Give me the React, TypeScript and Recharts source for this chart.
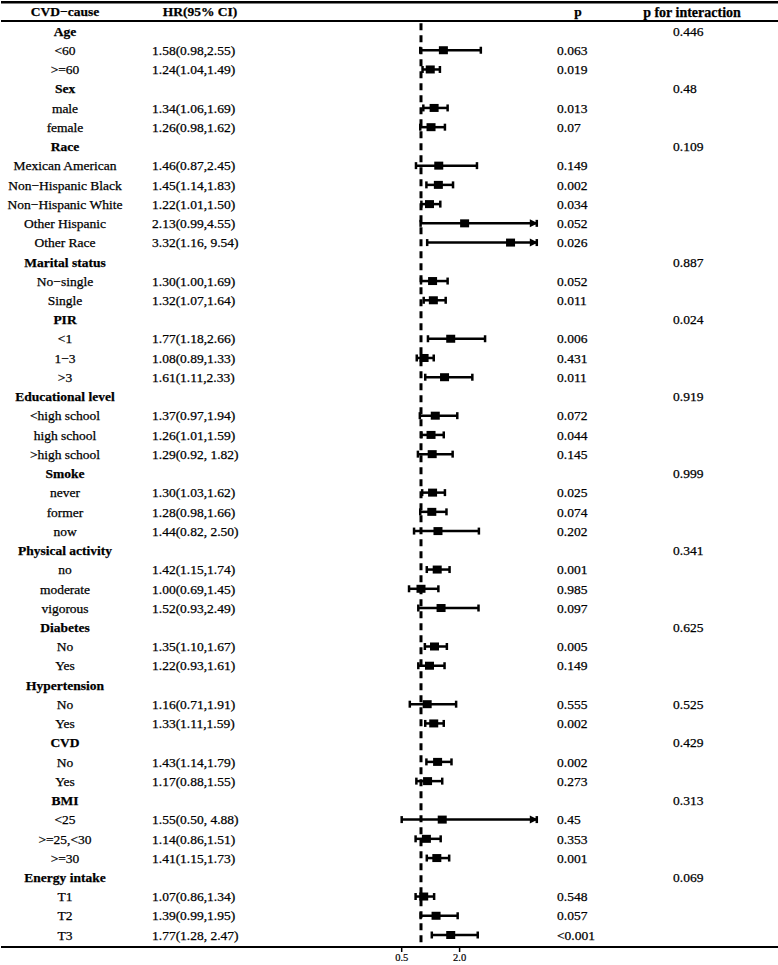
import { ScatterChart, Scatter, XAxis, YAxis, ErrorBar, ReferenceLine } from "recharts"

// subgroup rows (group headers have no estimate)
const labels = [
  "Age", "<60", ">=60",
  "Sex", "male", "female",
  "Race", "Mexican American", "Non\u2212Hispanic Black", "Non\u2212Hispanic White", "Other Hispanic", "Other Race",
  "Marital status", "No\u2212single", "Single",
  "PIR", "<1", "1\u22123", ">3",
  "Educational level", "<high school", "high school", ">high school",
  "Smoke", "never", "former", "now",
  "Physical activity", "no", "moderate", "vigorous",
  "Diabetes", "No", "Yes",
  "Hypertension", "No", "Yes",
  "CVD", "No", "Yes",
  "BMI", "<25", ">=25,<30", ">=30",
  "Energy intake", "T1", "T2", "T3",
]

const hr = [
  null, 1.58, 1.24,
  null, 1.34, 1.26,
  null, 1.46, 1.45, 1.22, 2.13, 3.32,
  null, 1.30, 1.32,
  null, 1.77, 1.08, 1.61,
  null, 1.37, 1.26, 1.29,
  null, 1.30, 1.28, 1.44,
  null, 1.42, 1.00, 1.52,
  null, 1.35, 1.22,
  null, 1.16, 1.33,
  null, 1.43, 1.17,
  null, 1.55, 1.14, 1.41,
  null, 1.07, 1.39, 1.77,
]

const ciLow = [
  null, 0.98, 1.04,
  null, 1.06, 0.98,
  null, 0.87, 1.14, 1.01, 0.99, 1.16,
  null, 1.00, 1.07,
  null, 1.18, 0.89, 1.11,
  null, 0.97, 1.01, 0.92,
  null, 1.03, 0.98, 0.82,
  null, 1.15, 0.69, 0.93,
  null, 1.10, 0.93,
  null, 0.71, 1.11,
  null, 1.14, 0.88,
  null, 0.50, 0.86, 1.15,
  null, 0.86, 0.99, 1.28,
]

const ciHigh = [
  null, 2.55, 1.49,
  null, 1.69, 1.62,
  null, 2.45, 1.83, 1.50, 4.55, 9.54,
  null, 1.69, 1.64,
  null, 2.66, 1.33, 2.33,
  null, 1.94, 1.59, 1.82,
  null, 1.62, 1.66, 2.50,
  null, 1.74, 1.45, 2.49,
  null, 1.67, 1.61,
  null, 1.91, 1.59,
  null, 1.79, 1.55,
  null, 4.88, 1.51, 1.73,
  null, 1.34, 1.95, 2.47,
]

const hrText = [
  "", "1.58(0.98,2.55)", "1.24(1.04,1.49)",
  "", "1.34(1.06,1.69)", "1.26(0.98,1.62)",
  "", "1.46(0.87,2.45)", "1.45(1.14,1.83)", "1.22(1.01,1.50)", "2.13(0.99,4.55)", "3.32(1.16, 9.54)",
  "", "1.30(1.00,1.69)", "1.32(1.07,1.64)",
  "", "1.77(1.18,2.66)", "1.08(0.89,1.33)", "1.61(1.11,2.33)",
  "", "1.37(0.97,1.94)", "1.26(1.01,1.59)", "1.29(0.92, 1.82)",
  "", "1.30(1.03,1.62)", "1.28(0.98,1.66)", "1.44(0.82, 2.50)",
  "", "1.42(1.15,1.74)", "1.00(0.69,1.45)", "1.52(0.93,2.49)",
  "", "1.35(1.10,1.67)", "1.22(0.93,1.61)",
  "", "1.16(0.71,1.91)", "1.33(1.11,1.59)",
  "", "1.43(1.14,1.79)", "1.17(0.88,1.55)",
  "", "1.55(0.50, 4.88)", "1.14(0.86,1.51)", "1.41(1.15,1.73)",
  "", "1.07(0.86,1.34)", "1.39(0.99,1.95)", "1.77(1.28, 2.47)",
]

const pValues = [
  "", "0.063", "0.019",
  "", "0.013", "0.07",
  "", "0.149", "0.002", "0.034", "0.052", "0.026",
  "", "0.052", "0.011",
  "", "0.006", "0.431", "0.011",
  "", "0.072", "0.044", "0.145",
  "", "0.025", "0.074", "0.202",
  "", "0.001", "0.985", "0.097",
  "", "0.005", "0.149",
  "", "0.555", "0.002",
  "", "0.002", "0.273",
  "", "0.45", "0.353", "0.001",
  "", "0.548", "0.057", "<0.001",
]

const pInteraction = [
  "0.446", "", "",
  "0.48", "", "",
  "0.109", "", "", "", "", "",
  "0.887", "", "",
  "0.024", "", "", "",
  "0.919", "", "", "",
  "0.999", "", "", "",
  "0.341", "", "", "",
  "0.625", "", "",
  "", "0.525", "",
  "0.429", "", "",
  "0.313", "", "", "",
  "0.069", "", "", "",
]

const headers = ["CVD\u2212cause", "HR(95% CI)", "p", "p for interaction"]
const xTicks = [0.5, 2.0]
const clipAt = 4

const font = "'Liberation Serif', 'Times New Roman', serif"

// row 0 is the header, subgroups start at 1
const rowIds = [0, ...labels.map((_, i) => i + 1)]

const points = labels
  .map((_, i) => ({
    x: hr[i],
    y: i + 1,
    err: hr[i] === null ? null : [hr[i] - ciLow[i], Math.min(ciHigh[i], clipAt) - hr[i]],
  }))
  .filter(d => d.x !== null)

const arrows = labels
  .map((_, i) => ({ x: clipAt, y: i + 1, hi: ciHigh[i] }))
  .filter(d => d.hi !== null && d.hi > clipAt)

const RowTick = (props: any) => {
  const { y, payload } = props
  const i = payload.value
  // thin stroke makes the serif text a bit heavier, like the scanned original
  const base = { fontFamily: font, fontSize: 13.5, fill: "#000", stroke: "#000", strokeWidth: 0.25, dy: "0.35em" }
  if (i === 0) {
    return (
      <g>
        <text {...base} x={65} y={y} textAnchor="middle" fontWeight="bold">{headers[0]}</text>
        <text {...base} x={200} y={y} textAnchor="middle" fontWeight="bold">{headers[1]}</text>
        <text {...base} x={578} y={y} textAnchor="middle" fontWeight="bold">{headers[2]}</text>
        <text {...base} x={692} y={y} textAnchor="middle" fontWeight="bold" fontSize={14}>{headers[3]}</text>
      </g>
    )
  }
  const r = i - 1
  const isGroup = hr[r] === null
  return (
    <g>
      <text {...base} x={65} y={y} textAnchor="middle" fontWeight={isGroup ? "bold" : "normal"}>{labels[r]}</text>
      <text {...base} x={152} y={y} textAnchor="start">{hrText[r]}</text>
      <text {...base} x={557} y={y} textAnchor="start">{pValues[r]}</text>
      <text {...base} x={673} y={y} textAnchor="start">{pInteraction[r]}</text>
    </g>
  )
}

const BoxShape = (props: any) => {
  const { cx, cy } = props
  return <rect x={cx - 4.5} y={cy - 4} width={9} height={8} fill="#000" />
}

const ArrowShape = (props: any) => {
  const { cx, cy } = props
  return <path d={`M${cx + 1},${cy} L${cx - 7},${cy - 4} L${cx - 7},${cy + 4} Z`} fill="#000" />
}

export default function App() {
  return (
    <div style={{ position: "absolute", left: 0, top: 0, width: 778, height: 965, background: "#fff" }}>
      <ScatterChart width={778} height={965} margin={{ top: 2, right: 0, bottom: 0, left: 0 }}>
        <XAxis
          type="number"
          dataKey="x"
          domain={[-9.881, 10.249]}
          allowDataOverflow
          ticks={xTicks}
          tickFormatter={(v: number) => v.toFixed(1)}
          height={18}
          axisLine={{ stroke: "#000", strokeWidth: 2 }}
          tickLine={{ stroke: "#000", strokeWidth: 1.5 }}
          tickSize={5}
          tick={{ fontFamily: font, fontSize: 10.5, fill: "#000", stroke: "#000", strokeWidth: 0.2 }}
        />
        <YAxis
          type="number"
          dataKey="y"
          domain={[-0.508, 48.624]}
          reversed
          allowDataOverflow
          ticks={rowIds}
          interval={0}
          width={1}
          axisLine={false}
          tickLine={false}
          tick={<RowTick />}
        />
        <ReferenceLine y={-0.49} stroke="#000" strokeWidth={2.5} />
        <ReferenceLine y={0.48} stroke="#000" strokeWidth={2} />
        <ReferenceLine
          segment={[{ x: 1, y: 0.6 }, { x: 1, y: 48.6 }]}
          stroke="#000"
          strokeWidth={3}
          strokeDasharray="7 5"
        />
        <Scatter data={points} shape={<BoxShape />} isAnimationActive={false}>
          <ErrorBar dataKey="err" direction="x" width={3.5} stroke="#000" strokeWidth={2.5} isAnimationActive={false} />
        </Scatter>
        <Scatter data={arrows} shape={<ArrowShape />} isAnimationActive={false} />
      </ScatterChart>
    </div>
  )
}
